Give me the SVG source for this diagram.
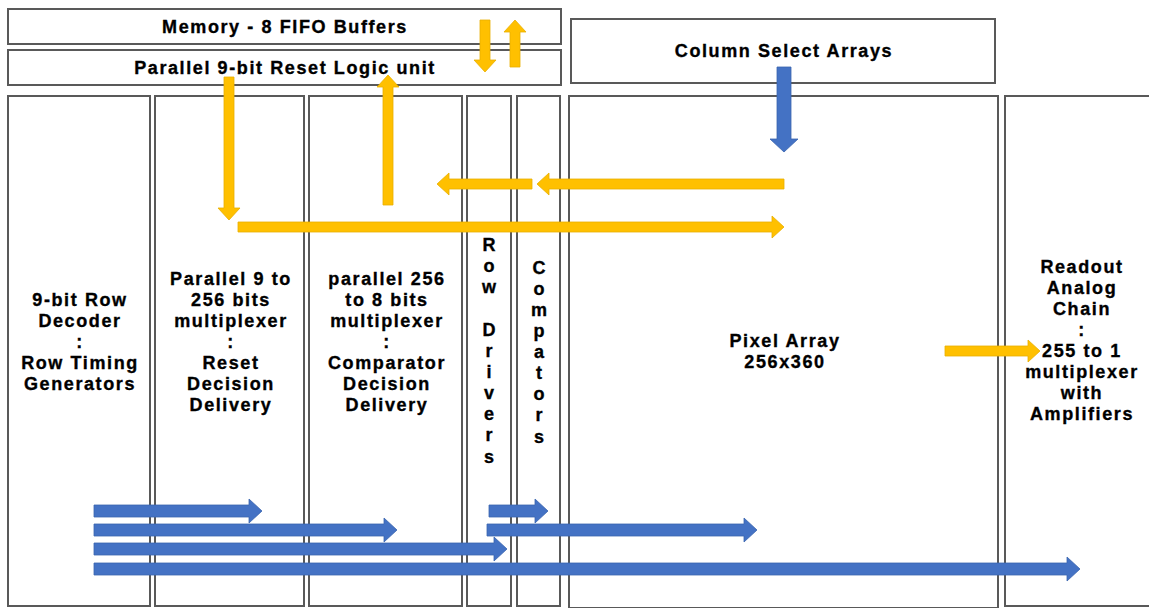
<svg xmlns="http://www.w3.org/2000/svg" width="1149" height="608" viewBox="0 0 1149 608">
<style>
.box{fill:#fff;stroke:#595959;stroke-width:2}
.t{font-family:"Liberation Sans",Arial,sans-serif;font-weight:bold;font-size:18px;letter-spacing:1.6px;fill:#000;stroke:#000;stroke-width:0.35;text-anchor:middle}
.y{fill:#FFC000;stroke:#E8AE00;stroke-width:0.8}
.b{fill:#4472C4;stroke:#3A64AE;stroke-width:0.8}
</style>
<rect width="1149" height="608" fill="#fff"/>
<g id="memory"><rect class="box" x="8" y="9" width="553" height="35"/><text class="t" x="285" y="33">Memory - 8 FIFO Buffers</text></g>
<g id="reset-logic"><rect class="box" x="8" y="50" width="553" height="35"/><text class="t" x="285" y="74">Parallel 9-bit Reset Logic unit</text></g>
<g id="column-select"><rect class="box" x="571" y="19" width="424" height="64"/><text class="t" x="784" y="57">Column Select Arrays</text></g>
<g id="row-decoder"><rect class="box" x="8" y="96" width="142" height="510"/>
<text class="t"><tspan x="80" y="306">9-bit Row</tspan><tspan x="80" y="327">Decoder</tspan><tspan x="80" y="348">:</tspan><tspan x="80" y="369">Row Timing</tspan><tspan x="80" y="390">Generators</tspan></text></g>
<g id="reset-mux"><rect class="box" x="155" y="96" width="149" height="510"/>
<text class="t"><tspan x="231" y="285">Parallel 9 to</tspan><tspan x="231" y="306">256 bits</tspan><tspan x="231" y="327">multiplexer</tspan><tspan x="231" y="348">:</tspan><tspan x="231" y="369">Reset</tspan><tspan x="231" y="390">Decision</tspan><tspan x="231" y="411">Delivery</tspan></text></g>
<g id="comp-mux"><rect class="box" x="309" y="96" width="153" height="510"/>
<text class="t"><tspan x="387" y="285">parallel 256</tspan><tspan x="387" y="306">to 8 bits</tspan><tspan x="387" y="327">multiplexer</tspan><tspan x="387" y="348">:</tspan><tspan x="387" y="369">Comparator</tspan><tspan x="387" y="390">Decision</tspan><tspan x="387" y="411">Delivery</tspan></text></g>
<g id="row-drivers"><rect class="box" x="467" y="96" width="44" height="510"/>
<text class="t" style="letter-spacing:0"><tspan x="489" y="251">R</tspan><tspan x="489" y="272">o</tspan><tspan x="489" y="293">w</tspan><tspan x="489" y="336">D</tspan><tspan x="489" y="357">r</tspan><tspan x="489" y="378">i</tspan><tspan x="489" y="399">v</tspan><tspan x="489" y="420">e</tspan><tspan x="489" y="441">r</tspan><tspan x="489" y="463">s</tspan></text></g>
<g id="comparators"><rect class="box" x="517" y="96" width="43" height="510"/>
<text class="t" style="letter-spacing:0"><tspan x="539" y="274">C</tspan><tspan x="539" y="295">o</tspan><tspan x="539" y="316">m</tspan><tspan x="539" y="337">p</tspan><tspan x="539" y="358">a</tspan><tspan x="539" y="379">t</tspan><tspan x="539" y="400">o</tspan><tspan x="539" y="421">r</tspan><tspan x="539" y="443">s</tspan></text></g>
<g id="pixel-array"><rect class="box" x="569" y="96" width="429" height="512"/>
<text class="t"><tspan x="785" y="347">Pixel Array</tspan><tspan x="785" y="368">256x360</tspan></text></g>
<g id="readout"><rect class="box" x="1005" y="96" width="150" height="510"/>
<text class="t"><tspan x="1082" y="273">Readout</tspan><tspan x="1082" y="294">Analog</tspan><tspan x="1082" y="315">Chain</tspan><tspan x="1082" y="336">:</tspan><tspan x="1082" y="357">255 to 1</tspan><tspan x="1082" y="378">multiplexer</tspan><tspan x="1082" y="399">with</tspan><tspan x="1082" y="420">Amplifiers</tspan></text></g>
<g id="connectors">
<polygon class="y" points="480,20 490,20 490,60 496,60 485,72 474,60 480,60"/>
<polygon class="y" points="510,67 520,67 520,32 526,32 515,20 504,32 510,32"/>
<polygon class="y" points="224,77 234,77 234,208 240,208 229,220 218,208 224,208"/>
<polygon class="y" points="238,222 772,222 772,216 784,227 772,238 772,232 238,232"/>
<polygon class="y" points="383,205 393,205 393,87 399,87 388,75 377,87 383,87"/>
<polygon class="y" points="532,179 449,179 449,173 437,184 449,195 449,189 532,189"/>
<polygon class="y" points="784,179 549,179 549,173 537,184 549,195 549,189 784,189"/>
<polygon class="y" points="945,346 1028,346 1028,340 1040,351 1028,362 1028,356 945,356"/>
<polygon class="b" points="777,67 791,67 791,139 798,139 784,152 770,139 777,139"/>
<polygon class="b" points="94,505 249,505 249,499 262,511 249,523 249,517 94,517"/>
<polygon class="b" points="94,524 384,524 384,518 397,530 384,542 384,536 94,536"/>
<polygon class="b" points="94,543 494,543 494,537 507,549 494,561 494,555 94,555"/>
<polygon class="b" points="94,563 1067,563 1067,557 1080,569 1067,581 1067,575 94,575"/>
<polygon class="b" points="489,505 535,505 535,499 548,511 535,523 535,517 489,517"/>
<polygon class="b" points="487,524 744,524 744,518 757,530 744,542 744,536 487,536"/>
</g>
</svg>
